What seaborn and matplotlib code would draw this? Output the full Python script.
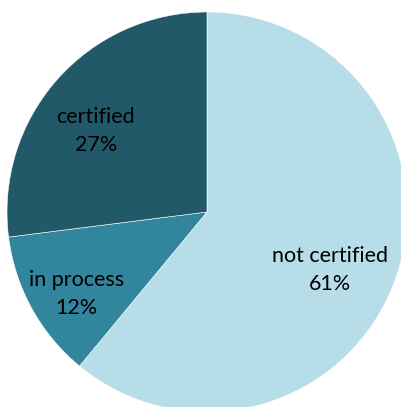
import numpy as np
import matplotlib
matplotlib.use("Agg")
import matplotlib.pyplot as plt
import seaborn as sns

labels = ["not certified", "in process", "certified"]
shares = [61, 12, 27]
colors = ["#B7DEE8", "#31859C", "#215968"]

sns.set_theme(style="white")
plt.rcParams["font.family"] = ["Lato", "DejaVu Sans"]

fig = plt.figure(figsize=(4.02, 4.07), dpi=100)
ax = fig.add_axes([7 / 402, -5 / 407, 400 / 402, 400 / 407])
wedges, _ = ax.pie(shares, colors=colors, startangle=90, counterclock=False,
                   radius=1, wedgeprops=dict(edgecolor="white", linewidth=0.4))

# label distance per slice (fraction of radius) and small angle nudge
dist = [0.67, 0.76, 0.70]
nudge = [-4.0, 2.0, 4.0]
for w, lab, s, d, n in zip(wedges, labels, shares, dist, nudge):
    ang = np.deg2rad((w.theta1 + w.theta2) / 2 + n)
    ax.text(d * np.cos(ang), d * np.sin(ang) - 0.02, f"{lab}\n{s}%", ha="center",
            va="center", fontsize=15.5, color="black", linespacing=1.5)

ax.set_xlim(-1, 1)
ax.set_ylim(-1, 1)
ax.set_aspect("equal")
ax.axis("off")
fig.savefig("out.png", dpi=100)
